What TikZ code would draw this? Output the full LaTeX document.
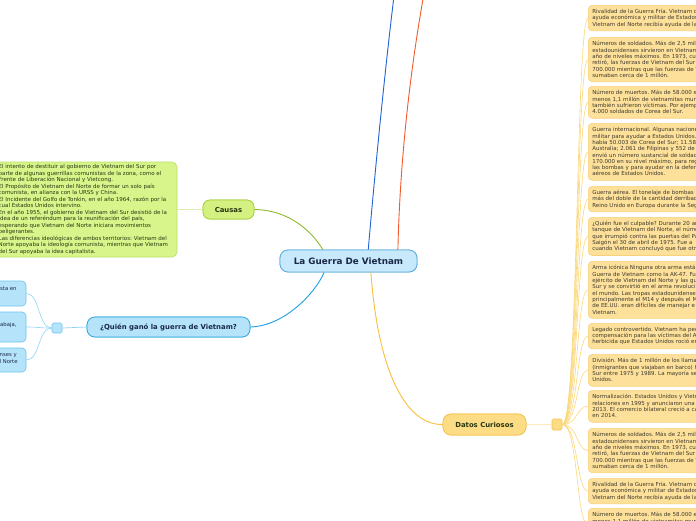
\documentclass[tikz,border=0pt]{standalone}
\usepackage{fontspec}
\setmainfont{DejaVu Sans}
\frenchspacing
\definecolor{cfill}{HTML}{C7E9FB}
\definecolor{cborder}{HTML}{5FAEDD}
\definecolor{ctext}{HTML}{1A2848}
\definecolor{gfill}{HTML}{D4F080}
\definecolor{gborder}{HTML}{A5CF3F}
\definecolor{gline}{HTML}{8DB92E}
\definecolor{gtext}{HTML}{2A3610}
\definecolor{gbfill}{HTML}{D8F58C}
\definecolor{gbborder}{HTML}{BADF62}
\definecolor{glight}{HTML}{DCEDB0}
\definecolor{qfill}{HTML}{B5E3F9}
\definecolor{qborder}{HTML}{2EA7E0}
\definecolor{qline}{HTML}{1CA0DF}
\definecolor{qlight}{HTML}{8FD3F4}
\definecolor{lbborder}{HTML}{6CC4EE}
\definecolor{yfill}{HTML}{FDDC86}
\definecolor{yborder}{HTML}{F5C24A}
\definecolor{yline}{HTML}{F8BF3C}
\definecolor{ylight}{HTML}{FCD77A}
\definecolor{yvlight}{HTML}{FDEBC0}
\definecolor{rfill}{HTML}{FDE09A}
\definecolor{rborder}{HTML}{F8D27A}
\definecolor{rtext}{HTML}{3F3A2E}
\definecolor{bup}{HTML}{1F63D6}
\definecolor{oup}{HTML}{F15A2B}
\begin{document}
\begin{tikzpicture}[x=1pt,y=-1pt,
  mainnode/.style={draw=cborder,fill=cfill,line width=0.8pt,rounded corners=8pt,inner sep=0pt,
    minimum width=137pt,minimum height=22pt,text=ctext,font=\bfseries\fontsize{8.8}{10}\selectfont},
  causasnode/.style={draw=gborder,fill=gfill,line width=0.7pt,rounded corners=7pt,inner sep=0pt,
    minimum width=51pt,minimum height=19pt,text=gtext,font=\bfseries\fontsize{6.9}{8}\selectfont},
  qnode/.style={draw=qborder,fill=qfill,line width=0.7pt,rounded corners=8pt,inner sep=0pt,
    minimum width=163pt,minimum height=20pt,text=ctext,font=\bfseries\fontsize{6.9}{8}\selectfont},
  dnode/.style={draw=yborder,fill=yfill,line width=0.7pt,rounded corners=8pt,inner sep=0pt,
    minimum width=83pt,minimum height=21pt,text=gtext,font=\bfseries\fontsize{6.9}{8}\selectfont},
  gbox/.style={draw=gbborder,fill=gbfill,line width=0.6pt,rounded corners=5pt,inner sep=0pt},
  lbox/.style={draw=lbborder,fill=qfill,line width=0.6pt,rounded corners=4pt,inner sep=0pt,minimum width=66pt},
  rbox/.style={draw=rborder,fill=rfill,line width=0.6pt,rounded corners=4pt,anchor=north west,
    inner xsep=4pt,inner ysep=0pt,text width=190pt,align=left,text=rtext,
    font=\fontsize{5.5}{6.3}\selectfont},
  gtxt/.style={anchor=west,inner sep=0pt,align=left,text=gtext,font=\fontsize{5.5}{6.5}\selectfont},
  ltxt/.style={anchor=west,inner sep=0pt,align=left,text=ctext,font=\fontsize{5.3}{6.3}\selectfont},
  sq/.style={line width=0.6pt,rounded corners=1.5pt,inner sep=0pt,minimum width=10pt,minimum height=10pt}
]
\useasboundingbox (0,0) rectangle (696,520);
\clip (0,0) rectangle (696,520);

% far-off coordinates of the branches leaving the picture
\coordinate (upb) at (395,-12);
\coordinate (upo) at (425,-12);

\node[mainnode] (cn) at (348.5,261) {La Guerra De Vietnam};
\node[causasnode] (cz) at (228.5,209.5) {Causas};
\node[qnode] (qn) at (168.5,327) {¿Quién ganó la guerra de Vietnam?};
\node[dnode] (dn) at (484.5,424.5) {Datos Curiosos};

% causes box
\node[gbox,minimum width=187pt,minimum height=95pt] (cb) at (83.5,209.5) {};
\node[gtxt] (ct) at (-1.5,209.5) {El intento de destituir al gobierno de Vietnam del Sur por\\
parte de algunas guerrillas comunistas de la zona, como el\\
Frente de Liberación Nacional y Vietcong.\\
El Propósito de Vietnam del Norte de formar un solo país\\
comunista, en alianza con la URSS y China.\\
El Incidente del Golfo de Tonkin, en el año 1964, razón por la\\
cual Estados Unidos intervino.\\
En el año 1955, el gobierno de Vietnam del Sur desistió de la\\
idea de un referéndum para la reunificación del país,\\
esperando que Vietnam del Norte iniciara movimientos\\
beligerantes.\\
Las diferencias ideológicas de ambos territorios: Vietnam del\\
Norte apoyaba la ideología comunista, mientras que Vietnam\\
del Sur apoyaba la idea capitalista.};

% left blue boxes
\node[lbox,minimum height=25pt] (l1) at (-7,293.5) {};
\node[lbox,minimum height=30pt] (l2) at (-7,327) {};
\node[lbox,minimum height=24pt] (l3) at (-7,360) {};
\node[ltxt] (lt1) at (0,289) {sta en};
\node[ltxt] (lt2) at (0,325.5) {abaja,};
\node[ltxt] (lt3) at (-0.5,358.5) {nses y\\l Norte};

% squares
\node[sq,draw=lbborder,fill=qfill] (qs) at (57,328) {};
\node[sq,draw=yborder,fill=yfill,minimum height=11pt] (ys) at (557,424.5) {};

% right yellow boxes
\node[rbox,minimum height=25.6pt] (r1) at (588,5) {Rivalidad de la Guerra Fría. Vietnam d\\ayuda económica y militar de Estados\\Vietnam del Norte recibía ayuda de la};
\node[rbox,minimum height=44.5pt] (r2) at (588,37) {Números de soldados. Más de 2,5 mill\\estadounidenses sirvieron en Vietnam\\año de niveles máximos. En 1973, cu\\retiró, las fuerzas de Vietnam del Sur\\700.000 mientras que las fuerzas de V\\sumaban cerca de 1 millón.};
\node[rbox,minimum height=31.9pt] (r3) at (588,86) {Número de muertos. Más de 58.000 e\\menos 1,1 millón de vietnamitas mur\\también sufrieron víctimas. Por ejemp\\4.000 soldados de Corea del Sur.};
\node[rbox,minimum height=57.1pt] (r4) at (588,123) {Guerra internacional. Algunas nacione\\militar para ayudar a Estados Unidos.\\había 50.003 de Corea del Sur; 11.58\\Australia; 2.061 de Filipinas y 552 de\\envió un número sustancial de soldad\\170.000 en su nivel máximo, para reg\\las bombas y para ayudar en la defen\\aéreos de Estados Unidos.};
\node[rbox,minimum height=25.6pt] (r5) at (588,186) {Guerra aérea. El tonelaje de bombas\\más del doble de la cantidad derribad\\Reino Unido en Europa durante la Seg};
\node[rbox,minimum height=38.2pt] (r6) at (588,217) {¿Quién fue el culpable? Durante 20 añ\\tanque de Vietnam del Norte, el núme\\que irrumpió contra las puertas del Pa\\Saigón el 30 de abril de 1975. Fue a\\cuando Vietnam concluyó que fue otr};
\node[rbox,minimum height=57.1pt] (r7) at (588,261) {Arma icónica Ninguna otra arma está\\Guerra de Vietnam como la AK-47. Fu\\ejército de Vietnam del Norte y las gu\\Sur y se convirtió en el arma revoluci\\el mundo. Las tropas estadounidense\\principalmente el M14 y después el M\\de EE.UU. eran difíciles de manejar e\\Vietnam.};
\node[rbox,minimum height=25.6pt] (r8) at (588,323) {Legado controvertido. Vietnam ha ped\\compensación para las víctimas del A\\herbicida que Estados Unidos roció en};
\node[rbox,minimum height=31.9pt] (r9) at (588,354) {División. Más de 1 millón de los llama\\(inmigrantes que viajaban en barco) h\\Sur entre 1975 y 1989. La mayoría se\\Unidos.};
\node[rbox,minimum height=31.9pt] (r10) at (588,390) {Normalización. Estados Unidos y Vietn\\relaciones en 1995 y anunciaron una\\2013. El comercio bilateral creció a ca\\en 2014.};
\node[rbox,minimum height=44.5pt] (r11) at (588,428) {Números de soldados. Más de 2,5 mill\\estadounidenses sirvieron en Vietnam\\año de niveles máximos. En 1973, cu\\retiró, las fuerzas de Vietnam del Sur\\700.000 mientras que las fuerzas de V\\sumaban cerca de 1 millón.};
\node[rbox,minimum height=25.6pt] (r12) at (588,478) {Rivalidad de la Guerra Fría. Vietnam d\\ayuda económica y militar de Estados\\Vietnam del Norte recibía ayuda de la};
\node[rbox,minimum height=31.9pt] (r13) at (588,508) {Número de muertos. Más de 58.000 e\\menos 1,1 millón de vietnamitas mur\\también sufrieron víctimas. Por ejemp\\4.000 soldados de Corea del Sur.};

% connectors
\draw[gline,line width=0.9pt] (cz.east) .. controls (290,210) and (312,232) .. (cn.156.7);
\draw[qline,line width=0.9pt] (qn.east) .. controls (285,326) and (316,292) .. (cn.205.1);
\draw[yline,line width=0.9pt] (cn.-27.1) .. controls (378,370) and (405,425) .. (dn.west);
\draw[bup,line width=0.9pt] (cn.30.7) .. controls (376,160) and (386,60) .. (upb);
\draw[oup,line width=0.9pt] (cn.13.9) .. controls (400,160) and (410,70) .. (upo);
\draw[glight,line width=0.8pt] (cz.west) -- (cb.east);
\draw[qlight,line width=0.7pt] (qn.west) -- (qs.east);
\draw[yvlight,line width=0.8pt] (dn.east) -- (ys.west);
\foreach \b in {l1,l2,l3}
  \draw[qlight,line width=0.6pt] (qs.west) .. controls +(-14,0) and +(14,0) .. (\b.east);
\foreach \b in {r1,r2,r3,r4,r5,r6,r7,r8,r9,r10,r11,r12,r13}
  \draw[ylight,line width=0.6pt] (ys.east) .. controls +(16,0) and +(-12,0) .. (\b.west);

% redraw nodes on top of connectors
\node[mainnode] at (cn) {La Guerra De Vietnam};
\node[causasnode] at (cz) {Causas};
\node[qnode] at (qn) {¿Quién ganó la guerra de Vietnam?};
\node[dnode] at (dn) {Datos Curiosos};
\end{tikzpicture}
\end{document}
